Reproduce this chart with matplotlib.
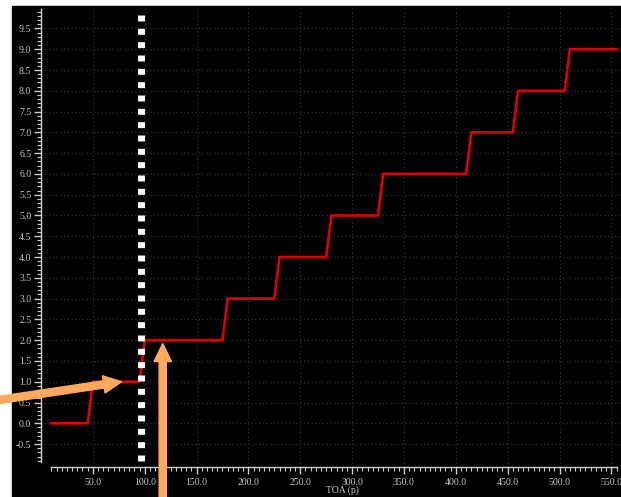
import matplotlib
matplotlib.use("Agg")
import matplotlib.pyplot as plt
import matplotlib.patches as mpatches
from matplotlib.ticker import FixedLocator, FormatStrFormatter
import numpy as np

# step response (TOA in p, code value)
TOA = [10, 45, 50, 95, 100, 175, 180, 225, 230, 275, 280, 325, 330,
       410, 415, 455, 460, 505, 510, 555]
CODE = [0, 0, 1, 1, 2, 2, 3, 3, 4, 4, 5, 5, 6, 6, 7, 7, 8, 8, 9, 9]

X_TICKS = [50, 100, 150, 200, 250, 300, 350, 400, 450, 500, 550]
Y_TICKS = [-0.5, 0.0, 0.5, 1.0, 1.5, 2.0, 2.5, 3.0, 3.5, 4.0, 4.5,
           5.0, 5.5, 6.0, 6.5, 7.0, 7.5, 8.0, 8.5, 9.0, 9.5]

MARKER_X = 96.5          # white dotted marker
ARROW_TIPS = [(77.8, 1.0), (117.4, 1.92)]
ARROW_TAILS = [(-49.0, 0.53), (117.4, -1.9)]

W, H = 621, 497
FG = "#d0d0d0"
ORANGE = "#ffa95e"
RED = "#e00000"


def px(x0, y0, x1, y1):
    # pixel box (from top-left) -> figure fraction rect
    return [x0 / W, 1 - y1 / H, (x1 - x0) / W, (y1 - y0) / H]


fig = plt.figure(figsize=(W / 100, H / 100), dpi=100)
fig.patch.set_facecolor("white")
fig.patches.append(mpatches.Rectangle((12 / W, 0), 1, 1 - 6 / H,
                                      transform=fig.transFigure,
                                      color="black", zorder=-10))

ax = fig.add_axes(px(41, 6, 621, 466.7))
ax.set_facecolor("black")
ax.set_xlim(0, 559.3)
ax.set_ylim(-1.044, 10.04)

# grid
ax.grid(which="major", color="#333333", linestyle=(0, (1, 2)), linewidth=0.9)
ax.set_axisbelow(True)

# data
ax.plot(TOA, CODE, color=RED, linewidth=1.9, solid_joinstyle="miter", zorder=3)
ax.plot([MARKER_X, MARKER_X], [9.83, -0.93], color="white", linewidth=5,
        linestyle=(0, (0.86, 1.06)), dash_capstyle="butt", zorder=4)

# arrows
for tip, tail in zip(ARROW_TIPS, ARROW_TAILS):
    ax.annotate("", xy=tip, xytext=tail, xycoords="data", textcoords="data",
                annotation_clip=False,
                arrowprops=dict(arrowstyle="simple,head_length=1.3,head_width=1.25,tail_width=0.52",
                                mutation_scale=10, color=ORANGE, shrinkA=0, shrinkB=0),
                zorder=6)

# spines as rulers
for s in ["top", "right"]:
    ax.spines[s].set_visible(False)
ax.spines["left"].set_bounds(-0.94, 9.96)
ax.spines["bottom"].set_bounds(10, 555)
for s in ["left", "bottom"]:
    ax.spines[s].set_color(FG)
    ax.spines[s].set_linewidth(1.0)

ax.xaxis.set_major_locator(FixedLocator(X_TICKS))
ax.xaxis.set_minor_locator(FixedLocator(np.arange(10, 556, 5)))
ax.yaxis.set_major_locator(FixedLocator(Y_TICKS))
ax.yaxis.set_minor_locator(FixedLocator(np.arange(-0.9, 9.96, 0.1)))
ax.xaxis.set_major_formatter(FormatStrFormatter("%.1f"))
ax.yaxis.set_major_formatter(FormatStrFormatter("%.1f"))

ax.tick_params(which="major", direction="out", length=5, width=1, color=FG,
               labelcolor="#c8c8c8", labelsize=7, labelfontfamily="Liberation Serif")
ax.tick_params(which="minor", direction="out", length=3, width=0.8, color=FG)
ax.tick_params(axis="y", which="major", pad=2)
ax.tick_params(axis="x", which="major", pad=3)

ax.set_xlabel("TOA (p)", color="#c8c8c8", fontsize=7, family="Liberation Serif")
ax.xaxis.set_label_coords((342 - 41) / 580, -0.041)

fig.savefig("out.png", dpi=100, facecolor=fig.get_facecolor())
